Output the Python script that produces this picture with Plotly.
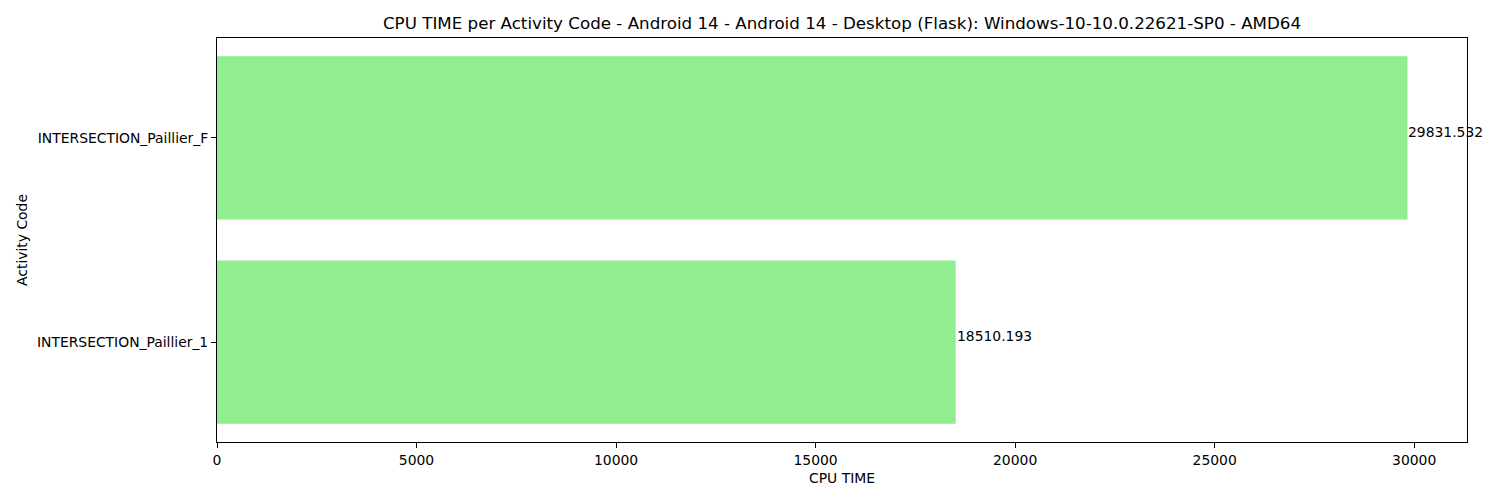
import plotly.graph_objects as go

categories = ["INTERSECTION_Paillier_1", "INTERSECTION_Paillier_F"]
cpu_time = [18510.193, 29831.532]
x_ticks = [0, 5000, 10000, 15000, 20000, 25000, 30000]

FONT = "DejaVu Sans"
positions = list(range(len(categories)))

W, H = 1493, 493  # page body default margin offsets the figure

fig = go.Figure()
fig.add_trace(go.Bar(
    x=cpu_time, y=positions, orientation="h",
    width=0.8, marker=dict(color="#90EE90", line=dict(width=0)),
    hoverinfo="skip", showlegend=False,
))

for p, v in zip(positions, cpu_time):
    fig.add_annotation(
        x=v, y=p, xref="x", yref="y", text=f"{v:.3f}", showarrow=False,
        xanchor="left", yanchor="middle", yshift=6, xshift=-1,
        font=dict(family=FONT, size=13.9, color="black"),
    )

xmax = max(cpu_time) * 1.05
fig.update_layout(
    width=W, height=H,
    margin=dict(l=209, r=34, t=30, b=59),
    plot_bgcolor="white", paper_bgcolor="white",
    font=dict(family=FONT, size=13.9, color="black"),
    title=dict(
        text="CPU TIME per Activity Code - Android 14 - Android 14 - Desktop (Flask): Windows-10-10.0.22621-SP0 - AMD64",
        x=0.5, xref="paper", y=1 - 15 / H, yref="container",
        xanchor="center", yanchor="middle",
        font=dict(family=FONT, size=16.7, color="black"),
    ),
    xaxis=dict(
        range=[0, xmax], tickvals=x_ticks, ticktext=[str(t) for t in x_ticks],
        showgrid=False, zeroline=False, showline=True, mirror=True,
        linecolor="black", linewidth=1, ticks="outside", ticklen=5,
        tickcolor="black", tickwidth=1,
        title=dict(text="CPU TIME", font=dict(family=FONT, size=13.9), standoff=6),
    ),
    yaxis=dict(
        range=[-0.49, 1.49], tickvals=positions, ticktext=categories,
        showgrid=False, zeroline=False, showline=True, mirror=True,
        linecolor="black", linewidth=1, ticks="outside", ticklen=5,
        tickcolor="black", tickwidth=1,
        title=dict(text="Activity Code", font=dict(family=FONT, size=13.9), standoff=6),
    ),
)

fig.write_html("out.html")
